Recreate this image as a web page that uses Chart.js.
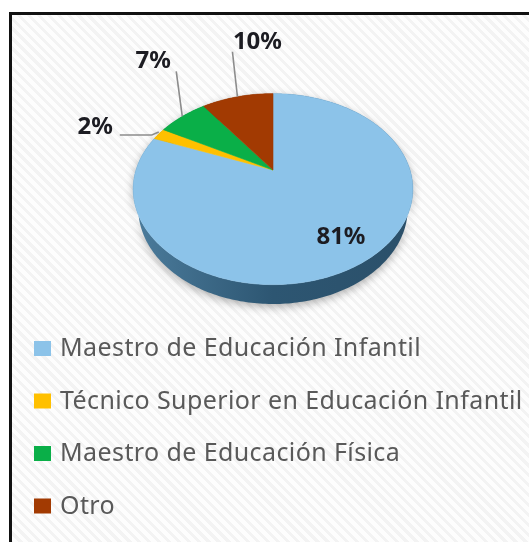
<!DOCTYPE html>
<html>
<head>
<meta charset="utf-8">
<script src="https://cdn.jsdelivr.net/npm/chart.js@4/dist/chart.umd.min.js"></script>
<style>
  body { margin: 0; background: #fff; }
  #frame {
    position: absolute; left: 9px; top: 12px; width: 520px; height: 530px;
    border-top: 3px solid #111; border-left: 3px solid #111;
    background: repeating-linear-gradient(45deg, #f3f3f3 0px, #f3f3f3 3px, #fdfdfd 3px, #fdfdfd 7px);
  }
  #myChart { position: absolute; left: 0; top: 0; }
</style>
</head>
<body>
<div id="frame"></div>
<canvas id="myChart" width="529" height="542"></canvas>
<script>
// data
var categories = ['Maestro de Educación Infantil', 'Técnico Superior en Educación Infantil', 'Maestro de Educación Física', 'Otro'];
var percents = [81, 2, 7, 10];

// styles
var sliceColors = ['#8cc3e9', '#ffc000', '#0aaf48', '#a23a02'];
var sideColors = [['#4a7a9a', '#2d5672', '#2b506a'], ['#b88a00', '#a07800', '#8a6800'], ['#07803a', '#066b30', '#055a28'], ['#7a2c02', '#662502', '#551f02']];
// perspective of the tilted pie (in units of the radius)
var view = { dist: 3.71, cosT: 0.743, sinT: 0.669, depth: 0.2 };
// leader lines for the outside labels: points relative to the rim anchor, then text offset
var leaders = [
  null,
  { pts: [[0, -2], [-7, 1], [-39, 1]], text: [-7, -8], align: 'right' },
  { pts: [[0, 0], [-6, -45]], text: [-23, -10], align: 'center' },
  { pts: [[0, 0], [-5, -45]], text: [25, -10], align: 'center' }
];

function project(arc, u, w, h) {
  var z = view.dist + w * view.cosT + h * view.sinT;
  var k = arc.outerRadius * view.dist / z;
  return { x: arc.x + u * k, y: arc.y - (w * view.sinT - h * view.cosT) * k };
}
function rim(arc, t, h) {
  return project(arc, Math.cos(t), -Math.sin(t), h);
}

var pie3d = {
  id: 'pie3d',
  beforeDatasetsDraw: function(chart) {
    var ctx = chart.ctx;
    var arcs = chart.getDatasetMeta(0).data;
    var step = Math.PI / 180;
    ctx.save();
    // side of the pie
    arcs.forEach(function(arc, i) {
      var a0 = arc.startAngle, a1 = arc.endAngle, t;
      var left = rim(arc, Math.PI, view.depth), right = rim(arc, 0, view.depth);
      var grad = ctx.createLinearGradient(left.x, 0, right.x, 0);
      grad.addColorStop(0, sideColors[i][0]);
      grad.addColorStop(0.5, sideColors[i][1]);
      grad.addColorStop(1, sideColors[i][2]);
      ctx.beginPath();
      for (t = a0; t < a1; t += step) {
        var p = rim(arc, t, 0);
        ctx.lineTo(p.x, p.y);
      }
      var pe = rim(arc, a1, 0);
      ctx.lineTo(pe.x, pe.y);
      for (t = a1; t > a0; t -= step) {
        var q = rim(arc, t, view.depth);
        ctx.lineTo(q.x, q.y);
      }
      var qs = rim(arc, a0, view.depth);
      ctx.lineTo(qs.x, qs.y);
      ctx.closePath();
      ctx.shadowColor = 'rgba(0,0,0,0.3)';
      ctx.shadowBlur = 8;
      ctx.shadowOffsetY = 3;
      ctx.fillStyle = grad;
      ctx.fill();
    });
    ctx.shadowColor = 'transparent';
    // top face
    arcs.forEach(function(arc, i) {
      var c = project(arc, 0, 0, 0), t;
      ctx.beginPath();
      ctx.moveTo(c.x, c.y);
      for (t = arc.startAngle; t < arc.endAngle; t += step) {
        var p = rim(arc, t, 0);
        ctx.lineTo(p.x, p.y);
      }
      var pe = rim(arc, arc.endAngle, 0);
      ctx.lineTo(pe.x, pe.y);
      ctx.closePath();
      ctx.fillStyle = sliceColors[i];
      ctx.fill();
      ctx.strokeStyle = sliceColors[i];
      ctx.lineWidth = 0.6;
      ctx.stroke();
    });
    ctx.restore();
    return false;
  },
  afterDraw: function(chart) {
    var ctx = chart.ctx;
    var arcs = chart.getDatasetMeta(0).data;
    var ds = chart.data.datasets[0];
    ctx.save();
    // percent labels
    ctx.font = 'bold 24px "Noto Sans"';
    ctx.fillStyle = '#1c1c22';
    ctx.textBaseline = 'middle';
    arcs.forEach(function(arc, i) {
      var mid = (arc.startAngle + arc.endAngle) / 2;
      var txt = percents[i] + '%';
      var lead = leaders[i];
      if (!lead) {
        var p = project(arc, 0.77 * Math.cos(mid), -0.77 * Math.sin(mid), 0);
        ctx.textAlign = 'center';
        ctx.fillText(txt, p.x, p.y);
        return;
      }
      var a = rim(arc, mid, 0);
      ctx.beginPath();
      lead.pts.forEach(function(o, k) {
        if (k === 0) ctx.moveTo(a.x + o[0], a.y + o[1]);
        else ctx.lineTo(a.x + o[0], a.y + o[1]);
      });
      ctx.strokeStyle = '#8c8c8c';
      ctx.lineWidth = 1.6;
      ctx.stroke();
      var last = lead.pts[lead.pts.length - 1];
      ctx.textAlign = lead.align;
      ctx.fillText(txt, a.x + last[0] + lead.text[0], a.y + last[1] + lead.text[1]);
    });
    // legend, one entry per row
    ctx.font = '25px "Noto Sans"';
    ctx.letterSpacing = '0.4px';
    ctx.textAlign = 'left';
    chart.data.labels.forEach(function(lbl, i) {
      var y = 349 + i * 52.5;
      ctx.fillStyle = ds.backgroundColor[i];
      ctx.fillRect(34, y - 8, 17, 15);
      ctx.fillStyle = '#595959';
      ctx.fillText(lbl, 60, y);
    });
    ctx.restore();
  }
};

new Chart(document.getElementById('myChart'), {
  type: 'pie',
  data: {
    labels: categories,
    datasets: [{
      data: percents,
      backgroundColor: sliceColors,
      borderWidth: 0,
      hoverOffset: 0
    }]
  },
  options: {
    responsive: false,
    animation: false,
    layout: { padding: { left: 136, top: 33, right: 119, bottom: 235 } },
    plugins: {
      legend: { display: false },
      tooltip: { enabled: false }
    }
  },
  plugins: [pie3d]
});
</script>
</body>
</html>
